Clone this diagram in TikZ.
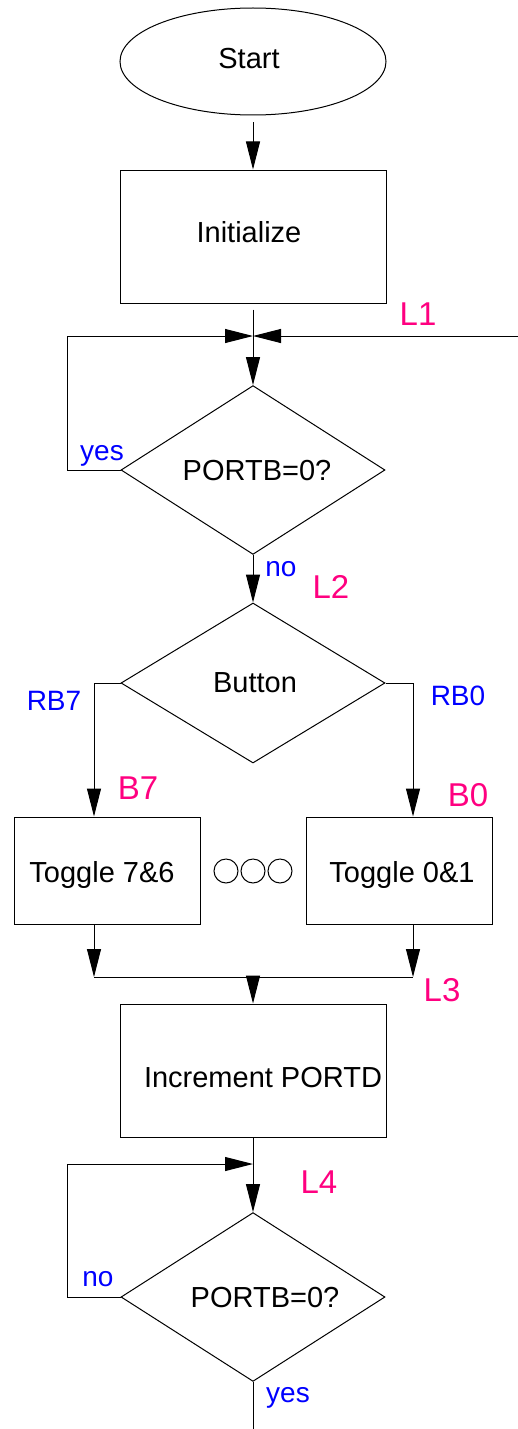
\documentclass[tikz,border=0pt]{standalone}
\usepackage{fontspec}
\setmainfont{Liberation Sans}
\usetikzlibrary{shapes.geometric,arrows.meta}
\definecolor{lblpink}{RGB}{255,0,128}
\definecolor{lblblue}{RGB}{0,0,255}
% shift a node text by (dx,dy) without changing its box
\newcommand{\nudge}[3]{\raisebox{#2}[\height][0pt]{\kern#1\relax#3\kern-#1\relax}}
\tikzset{
  every node/.style={font=\fontsize{14.5}{17}\selectfont, text depth=0pt},
  line/.style={draw=black, line width=0.5pt},
  arr/.style={line, -{Triangle[length=14pt,width=7pt]}},
  proc/.style={line, rectangle, inner sep=0pt},
  term/.style={line, ellipse, inner sep=0pt, minimum width=133pt, minimum height=53.5pt},
  test/.style={line, diamond, inner sep=0pt, minimum width=132pt, minimum height=80pt},
  dot/.style={line, circle, inner sep=0pt, minimum size=12pt},
  tagpink/.style={anchor=base, text=lblpink, font=\fontsize{16.5}{19}\selectfont},
  tagblue/.style={anchor=base, text=lblblue, font=\fontsize{14}{17}\selectfont},
}
\begin{document}
\begin{tikzpicture}[x=0.5pt, y=-0.5pt]
  \useasboundingbox (0,0) rectangle (518,1429);

  % main flow
  \node[term] (start) at (253,61.5) {\nudge{-2pt}{1.5pt}{Start}};
  \node[proc, minimum width=133pt, minimum height=66.5pt] (init) at (253,236.5) {\nudge{-2pt}{2.5pt}{Initialize}};
  \node[test] (d1) at (253,470) {\nudge{2pt}{0pt}{PORTB=0?}};
  \node[test] (d2) at (253,683) {\nudge{1pt}{0pt}{Button}};
  \node[proc, minimum width=93pt, minimum height=53.5pt] (t7) at (107,870.5) {\nudge{-2.5pt}{-0.75pt}{Toggle 7\&6}};
  \node[proc, minimum width=93pt, minimum height=53.5pt] (t0) at (399,870.5) {\nudge{1.5pt}{-0.75pt}{Toggle 0\&1}};
  \node[dot] (c1) at (226,871) {};
  \node[dot] (c2) at (253,871) {};
  \node[dot] (c3) at (280,871) {};
  \node[proc, minimum width=133pt, minimum height=66.5pt] (inc) at (253,1070.5) {\nudge{5pt}{-3.25pt}{Increment PORTD}};
  \node[test] (d3) at (253,1297) {\nudge{6pt}{0pt}{PORTB=0?}};

  % junction and bend points
  \coordinate (j1) at (253,336);
  \coordinate (lp1) at (67,336);
  \coordinate (in1) at (518,336);
  \coordinate (m7) at (94,977);
  \coordinate (m0) at (413,977);
  \coordinate (mj) at (253,977);
  \coordinate (j4) at (253,1164);
  \coordinate (lp4) at (67,1164);
  \coordinate (fin) at (253,1429);

  % connectors
  \draw[arr] ([yshift=-3.5pt]start.south) -- (init.north);
  \draw[arr] ([yshift=-3pt]init.south) -- (d1.north);
  \draw[arr] (d1.west) -| (lp1) -- (j1);
  \draw[arr] (in1) -- (j1);
  \draw[arr] (d1.south) -- (d2.north);
  \draw[arr] (d2.west) -| ([xshift=-6.5pt]t7.north);
  \draw[arr] (d2.east) -| ([xshift=7pt]t0.north);
  \draw[arr] ([xshift=-6.5pt]t7.south) -- (m7);
  \draw[arr] ([xshift=7pt]t0.south) -- (m0);
  \draw[line] (m7) -- (m0);
  \draw[arr] (mj) -- (inc.north);
  \draw[arr] (inc.south) -- (d3.north);
  \draw[arr] (d3.west) -| (lp4) -- (j4);
  \draw[line] (d3.south) -- (fin);

  % labels
  \node[tagpink] (l1) at (418,325) {L1};
  \node[tagblue] (y1) at (102,460) {yes};
  \node[tagblue] (n1) at (281,576) {no};
  \node[tagpink] (l2) at (331,598) {L2};
  \node[tagblue] (rb7) at (54,710) {RB7};
  \node[tagblue] (rb0) at (458,705) {RB0};
  \node[tagpink] (b7) at (138,799) {B7};
  \node[tagpink] (b0) at (468,806) {B0};
  \node[tagpink] (l3) at (442,1001) {L3};
  \node[tagpink] (l4) at (319,1193) {L4};
  \node[tagblue] (n2) at (98,1286) {no};
  \node[tagblue] (y2) at (288,1402) {yes};
\end{tikzpicture}
\end{document}
